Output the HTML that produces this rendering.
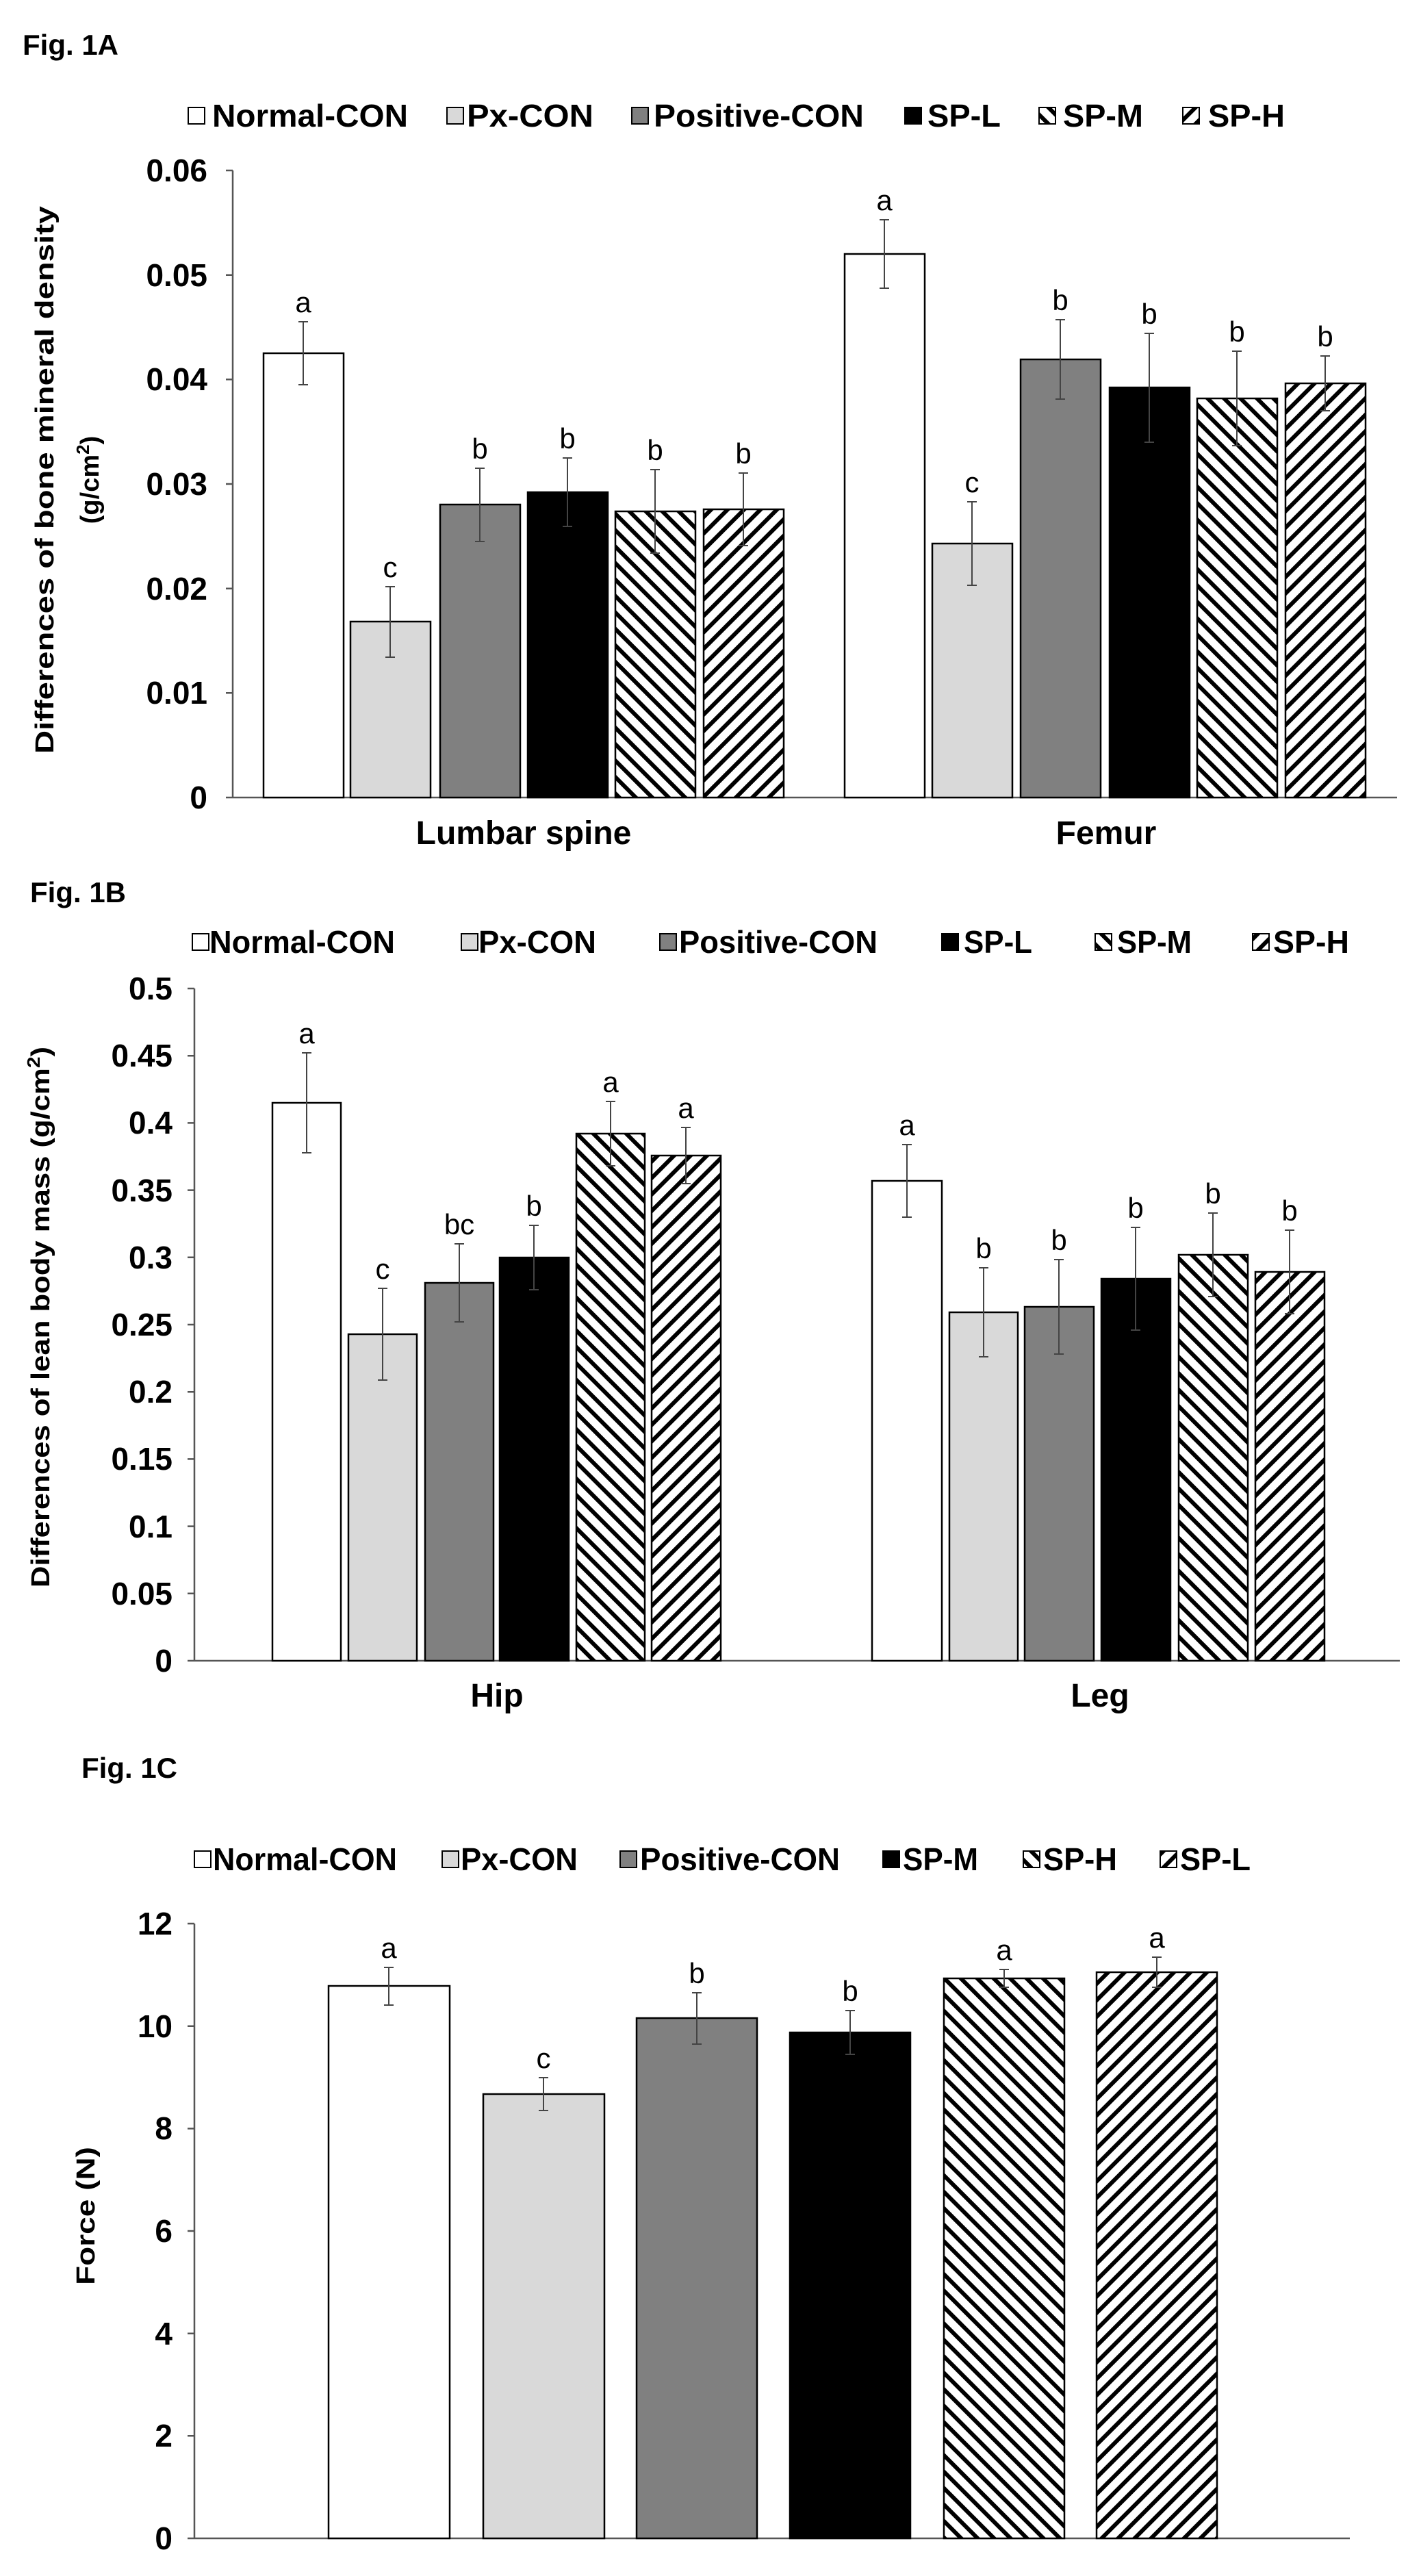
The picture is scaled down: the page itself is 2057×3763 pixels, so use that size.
<!DOCTYPE html>
<html><head><meta charset="utf-8"><style>html,body{margin:0;padding:0;background:#fff}svg{display:block}</style></head><body>
<svg xmlns="http://www.w3.org/2000/svg" width="2057" height="3763" viewBox="0 0 2057 3763">
<defs>
<pattern id="pm" patternUnits="userSpaceOnUse" width="17" height="17" patternTransform="rotate(-45)"><rect width="17" height="17" fill="#fff"/><rect x="0" y="0" width="6" height="17" fill="#000"/></pattern>
<pattern id="ph" patternUnits="userSpaceOnUse" width="17" height="17" patternTransform="rotate(45)"><rect width="17" height="17" fill="#fff"/><rect x="0" y="0" width="6" height="17" fill="#000"/></pattern>
<style>
.t{font-family:"Liberation Sans Narrow","Liberation Sans",sans-serif;font-weight:bold;fill:#000}
.tk{font-family:"Liberation Sans Narrow","Liberation Sans",sans-serif;font-weight:bold;font-size:46px;text-anchor:end}
.lt{font-family:"Liberation Sans Narrow","Liberation Sans",sans-serif;font-size:42px;text-anchor:middle}
.yl{font-family:"Liberation Sans",sans-serif;font-weight:bold;font-size:38px;text-anchor:middle}
.b{stroke:#000;stroke-width:2.5}
.e{stroke:#444;stroke-width:2;fill:none}
.ax{stroke:#555;stroke-width:2.5;fill:none}
</style>
</defs>

<!-- ================= Fig 1A ================= -->
<text class="t" x="33" y="80" font-size="42">Fig. 1A</text>
<g class="t" font-size="46">
<rect x="275" y="157" width="24" height="24" fill="#fff" stroke="#000" stroke-width="2"/><text x="310" y="185" textLength="286" lengthAdjust="spacingAndGlyphs">Normal-CON</text>
<rect x="653" y="157" width="24" height="24" fill="#d9d9d9" stroke="#000" stroke-width="2"/><text x="682" y="185" textLength="185" lengthAdjust="spacingAndGlyphs">Px-CON</text>
<rect x="923" y="157" width="24" height="24" fill="#808080" stroke="#000" stroke-width="2"/><text x="955" y="185" textLength="307" lengthAdjust="spacingAndGlyphs">Positive-CON</text>
<rect x="1322" y="157" width="24" height="24" fill="#000" stroke="#000" stroke-width="2"/><text x="1355" y="185" textLength="107" lengthAdjust="spacingAndGlyphs">SP-L</text>
<rect x="1518" y="157" width="24" height="24" fill="url(#pm)" stroke="#000" stroke-width="2"/><text x="1553" y="185" textLength="117" lengthAdjust="spacingAndGlyphs">SP-M</text>
<rect x="1728" y="157" width="24" height="24" fill="url(#ph)" stroke="#000" stroke-width="2"/><text x="1765" y="185" textLength="112" lengthAdjust="spacingAndGlyphs">SP-H</text>
</g>
<g class="tk">
<text x="303" y="265">0.06</text><text x="303" y="418">0.05</text><text x="303" y="570">0.04</text><text x="303" y="723">0.03</text><text x="303" y="876">0.02</text><text x="303" y="1028">0.01</text><text x="303" y="1181">0</text>
</g>
<path class="ax" d="M340 249V1165H2041 M330 249H340 M330 401.7H340 M330 554.3H340 M330 707H340 M330 859.7H340 M330 1012.3H340 M330 1165H340"/>
<text class="yl" transform="translate(78,701) rotate(-90)" textLength="800" lengthAdjust="spacingAndGlyphs">Differences of bone mineral density</text>
<text class="yl" transform="translate(144,701) rotate(-90)">(g/cm<tspan font-size="26" dy="-14">2</tspan><tspan dy="14">)</tspan></text>
<g class="b">
<rect x="385" y="516" width="117" height="649" fill="#fff"/>
<rect x="512" y="908" width="117" height="257" fill="#d9d9d9"/>
<rect x="643" y="737" width="117" height="428" fill="#808080"/>
<rect x="771" y="719" width="117" height="446" fill="#000"/>
<rect x="899" y="747" width="117" height="418" fill="url(#pm)"/>
<rect x="1028" y="744" width="117" height="421" fill="url(#ph)"/>
<rect x="1234" y="371" width="117" height="794" fill="#fff"/>
<rect x="1362" y="794" width="117" height="371" fill="#d9d9d9"/>
<rect x="1491" y="525" width="117" height="640" fill="#808080"/>
<rect x="1621" y="566" width="117" height="599" fill="#000"/>
<rect x="1749" y="582" width="117" height="583" fill="url(#pm)"/>
<rect x="1878" y="560" width="117" height="605" fill="url(#ph)"/>
</g>
<path class="e" d="M443 470V562M436 470H450M436 562H450 M570 857V960M563 857H577M563 960H577 M701 684V791M694 684H708M694 791H708 M829 669V769M822 669H836M822 769H836 M957 686V808M950 686H964M950 808H964 M1086 691V797M1079 691H1093M1079 797H1093 M1292 321V421M1285 321H1299M1285 421H1299 M1420 733V855M1413 733H1427M1413 855H1427 M1549 467V583M1542 467H1556M1542 583H1556 M1679 487V646M1672 487H1686M1672 646H1686 M1807 513V651M1800 513H1814M1800 651H1814 M1936 520V600M1929 520H1943M1929 600H1943"/>
<g class="lt">
<text x="443" y="456">a</text><text x="570" y="843">c</text><text x="701" y="670">b</text><text x="829" y="655">b</text><text x="957" y="672">b</text><text x="1086" y="677">b</text>
<text x="1292" y="307">a</text><text x="1420" y="719">c</text><text x="1549" y="453">b</text><text x="1679" y="473">b</text><text x="1807" y="499">b</text><text x="1936" y="506">b</text>
</g>
<g class="t" font-size="48" text-anchor="middle"><text x="765" y="1233">Lumbar spine</text><text x="1616" y="1233">Femur</text></g>

<!-- ================= Fig 1B ================= -->
<text class="t" x="44" y="1318" font-size="42">Fig. 1B</text>
<g class="t" font-size="46">
<rect x="281" y="1364" width="24" height="24" fill="#fff" stroke="#000" stroke-width="2"/><text x="306" y="1392" textLength="271" lengthAdjust="spacingAndGlyphs">Normal-CON</text>
<rect x="674" y="1364" width="24" height="24" fill="#d9d9d9" stroke="#000" stroke-width="2"/><text x="699" y="1392" textLength="172" lengthAdjust="spacingAndGlyphs">Px-CON</text>
<rect x="964" y="1364" width="24" height="24" fill="#808080" stroke="#000" stroke-width="2"/><text x="992" y="1392" textLength="290" lengthAdjust="spacingAndGlyphs">Positive-CON</text>
<rect x="1376" y="1364" width="24" height="24" fill="#000" stroke="#000" stroke-width="2"/><text x="1408" y="1392" textLength="100" lengthAdjust="spacingAndGlyphs">SP-L</text>
<rect x="1600" y="1364" width="24" height="24" fill="url(#pm)" stroke="#000" stroke-width="2"/><text x="1632" y="1392" textLength="109" lengthAdjust="spacingAndGlyphs">SP-M</text>
<rect x="1830" y="1364" width="24" height="24" fill="url(#ph)" stroke="#000" stroke-width="2"/><text x="1860" y="1392" textLength="111" lengthAdjust="spacingAndGlyphs">SP-H</text>
</g>
<g class="tk">
<text x="252" y="1460">0.5</text><text x="252" y="1558">0.45</text><text x="252" y="1656">0.4</text><text x="252" y="1755">0.35</text><text x="252" y="1853">0.3</text><text x="252" y="1951">0.25</text><text x="252" y="2049">0.2</text><text x="252" y="2147">0.15</text><text x="252" y="2246">0.1</text><text x="252" y="2344">0.05</text><text x="252" y="2442">0</text>
</g>
<path class="ax" d="M284 1444V2426H2045 M274 1444H284 M274 1542.2H284 M274 1640.4H284 M274 1738.6H284 M274 1836.8H284 M274 1935H284 M274 2033.2H284 M274 2131.4H284 M274 2229.6H284 M274 2327.8H284 M274 2426H284"/>
<text class="yl" transform="translate(72,1924) rotate(-90)" textLength="790" lengthAdjust="spacingAndGlyphs">Differences of lean body mass (g/cm<tspan font-size="26" dy="-14">2</tspan><tspan dy="14">)</tspan></text>
<g class="b">
<rect x="398" y="1611" width="100" height="815" fill="#fff"/>
<rect x="509" y="1949" width="100" height="477" fill="#d9d9d9"/>
<rect x="621" y="1874" width="100" height="552" fill="#808080"/>
<rect x="730" y="1837" width="101" height="589" fill="#000"/>
<rect x="842" y="1656" width="100" height="770" fill="url(#pm)"/>
<rect x="952" y="1688" width="101" height="738" fill="url(#ph)"/>
<rect x="1274" y="1725" width="102" height="701" fill="#fff"/>
<rect x="1387" y="1917" width="100" height="509" fill="#d9d9d9"/>
<rect x="1497" y="1909" width="101" height="517" fill="#808080"/>
<rect x="1609" y="1868" width="101" height="558" fill="#000"/>
<rect x="1722" y="1833" width="101" height="593" fill="url(#pm)"/>
<rect x="1834" y="1858" width="101" height="568" fill="url(#ph)"/>
</g>
<path class="e" d="M448 1538V1684M441 1538H455M441 1684H455 M559 1882V2016M552 1882H566M552 2016H566 M671 1817V1931M664 1817H678M664 1931H678 M780 1790V1884M773 1790H787M773 1884H787 M892 1609V1703M885 1609H899M885 1703H899 M1002 1647V1729M995 1647H1009M995 1729H1009 M1325 1672V1778M1318 1672H1332M1318 1778H1332 M1437 1852V1982M1430 1852H1444M1430 1982H1444 M1547 1840V1978M1540 1840H1554M1540 1978H1554 M1659 1793V1943M1652 1793H1666M1652 1943H1666 M1772 1772V1894M1765 1772H1779M1765 1894H1779 M1884 1797V1919M1877 1797H1891M1877 1919H1891"/>
<g class="lt">
<text x="448" y="1524">a</text><text x="559" y="1868">c</text><text x="671" y="1803">bc</text><text x="780" y="1776">b</text><text x="892" y="1595">a</text><text x="1002" y="1633">a</text>
<text x="1325" y="1658">a</text><text x="1437" y="1838">b</text><text x="1547" y="1826">b</text><text x="1659" y="1779">b</text><text x="1772" y="1758">b</text><text x="1884" y="1783">b</text>
</g>
<g class="t" font-size="48" text-anchor="middle"><text x="726" y="2493">Hip</text><text x="1607" y="2493">Leg</text></g>

<!-- ================= Fig 1C ================= -->
<text class="t" x="119" y="2597" font-size="42">Fig. 1C</text>
<g class="t" font-size="46">
<rect x="284" y="2704" width="24" height="24" fill="#fff" stroke="#000" stroke-width="2"/><text x="311" y="2732" textLength="269" lengthAdjust="spacingAndGlyphs">Normal-CON</text>
<rect x="646" y="2704" width="24" height="24" fill="#d9d9d9" stroke="#000" stroke-width="2"/><text x="673" y="2732" textLength="171" lengthAdjust="spacingAndGlyphs">Px-CON</text>
<rect x="906" y="2704" width="24" height="24" fill="#808080" stroke="#000" stroke-width="2"/><text x="935" y="2732" textLength="292" lengthAdjust="spacingAndGlyphs">Positive-CON</text>
<rect x="1290" y="2704" width="24" height="24" fill="#000" stroke="#000" stroke-width="2"/><text x="1319" y="2732" textLength="110" lengthAdjust="spacingAndGlyphs">SP-M</text>
<rect x="1495" y="2704" width="24" height="24" fill="url(#pm)" stroke="#000" stroke-width="2"/><text x="1524" y="2732" textLength="108" lengthAdjust="spacingAndGlyphs">SP-H</text>
<rect x="1695" y="2704" width="24" height="24" fill="url(#ph)" stroke="#000" stroke-width="2"/><text x="1724" y="2732" textLength="103" lengthAdjust="spacingAndGlyphs">SP-L</text>
</g>
<g class="tk">
<text x="252" y="2826">12</text><text x="252" y="2976">10</text><text x="252" y="3125">8</text><text x="252" y="3275">6</text><text x="252" y="3425">4</text><text x="252" y="3574">2</text><text x="252" y="3724">0</text>
</g>
<path class="ax" d="M284 2810V3708H1972 M274 2810H284 M274 2959.7H284 M274 3109.4H284 M274 3259H284 M274 3408.7H284 M274 3558.3H284 M274 3708H284"/>
<text class="yl" transform="translate(138,3237) rotate(-90)" textLength="202" lengthAdjust="spacingAndGlyphs">Force (N)</text>
<g class="b">
<rect x="480" y="2901" width="177" height="807" fill="#fff"/>
<rect x="706" y="3059" width="177" height="649" fill="#d9d9d9"/>
<rect x="930" y="2948" width="176" height="760" fill="#808080"/>
<rect x="1154" y="2969" width="176" height="739" fill="#000"/>
<rect x="1379" y="2890" width="176" height="818" fill="url(#pm)"/>
<rect x="1602" y="2881" width="176" height="827" fill="url(#ph)"/>
</g>
<path class="e" d="M568 2874V2929M561 2874H575M561 2929H575 M794 3035V3083M787 3035H801M787 3083H801 M1018 2911V2986M1011 2911H1025M1011 2986H1025 M1242 2937V3001M1235 2937H1249M1235 3001H1249 M1467 2877V2903M1460 2877H1474M1460 2903H1474 M1690 2859V2903M1683 2859H1697M1683 2903H1697"/>
<g class="lt">
<text x="568" y="2860">a</text><text x="794" y="3021">c</text><text x="1018" y="2897">b</text><text x="1242" y="2923">b</text><text x="1467" y="2863">a</text><text x="1690" y="2845">a</text>
</g>
</svg>
</body></html>
